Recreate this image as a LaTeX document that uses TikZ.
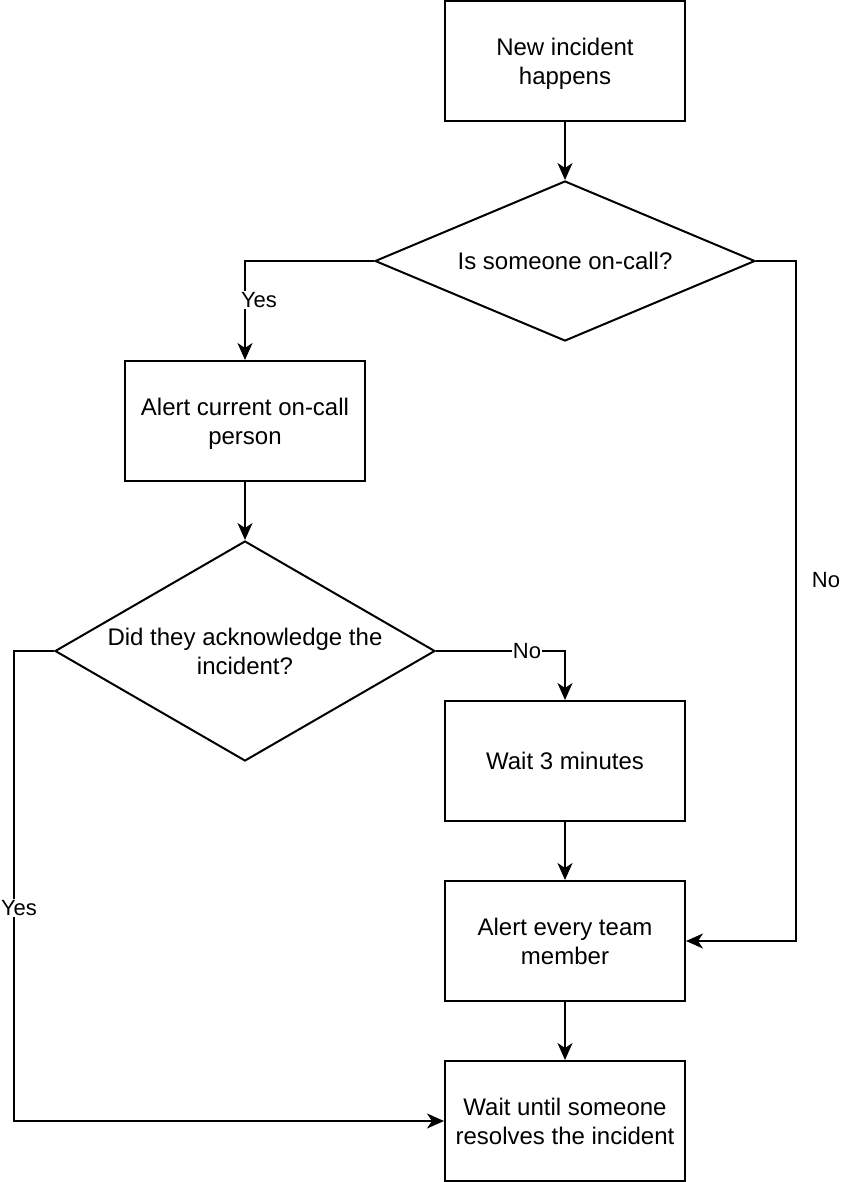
\documentclass[tikz,border=0pt]{standalone}
\usepackage{fontspec}
\setmainfont{Liberation Sans}
\usetikzlibrary{shapes.geometric,arrows.meta}
\begin{document}
\begin{tikzpicture}[x=1pt,y=-1pt,
  box/.style={draw,line width=2pt,minimum width=240pt,minimum height=120pt,inner sep=0pt,align=center,text depth=0pt,font=\fontsize{24pt}{28.8pt}\selectfont},
  dia/.style={draw,diamond,line width=2pt,inner sep=0pt,align=center,text depth=0pt,font=\fontsize{24pt}{28.8pt}\selectfont},
  arr/.style={line width=2pt,-{Stealth[length=17pt,width=15pt,inset=5pt]}},
  lbl/.style={font=\fontsize{22pt}{26pt}\selectfont,inner sep=1pt}
]
\useasboundingbox (0,0) rectangle (842,1182);
\node[box] (b1) at (565,61) {New incident\\happens};
\node[dia,minimum width=380pt,minimum height=160pt,aspect=2.375] (d1) at (565,261) {Is someone on-call?};
\node[box] (b2) at (245,421) {Alert current on-call\\person};
\node[dia,minimum width=380pt,minimum height=220pt,aspect=1.727] (d2) at (245,651) {Did they acknowledge the\\incident?};
\node[box] (b3) at (565,761) {Wait 3 minutes};
\node[box] (b4) at (565,941) {Alert every team\\member};
\node[box] (b5) at (565,1121) {Wait until someone\\resolves the incident};

\draw[arr] (b1.south) -- (d1.north);
\draw[arr] (d1.west) -| (b2.north);
\draw[arr] (d1.east) -- ++(40,0) |- (b4.east);
\draw[arr] (b2.south) -- (d2.north);
\draw[arr] (d2.east) -| (b3.north);
\draw[arr] (d2.west) -- ++(-40,0) |- (b5.west);
\draw[arr] (b3.south) -- (b4.north);
\draw[arr] (b4.south) -- (b5.north);

\node[lbl,fill=white] (l1) at (259,300) {Yes};
\node[lbl] (l2) at (826,580) {No};
\node[lbl,fill=white] (l3) at (527,651) {No};
\node[lbl,fill=white] (l4) at (19,908) {Yes};
\end{tikzpicture}
\end{document}
